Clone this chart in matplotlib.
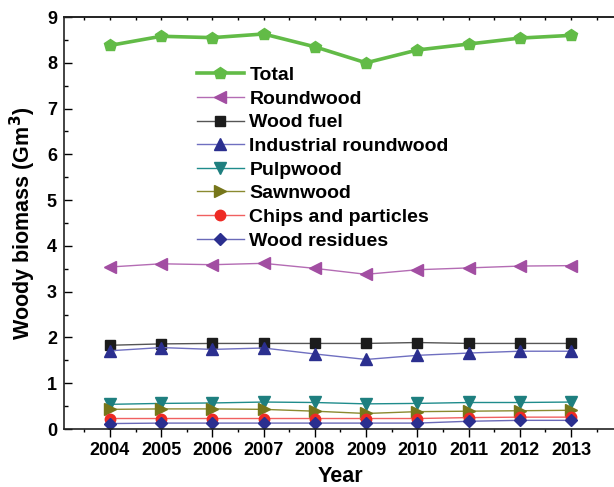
import matplotlib
matplotlib.use("Agg")
import matplotlib.pyplot as plt
from matplotlib.ticker import MultipleLocator

plt.rcParams["font.family"] = ["Liberation Sans", "DejaVu Sans"]
plt.rcParams["font.weight"] = "bold"

years = [2004, 2005, 2006, 2007, 2008, 2009, 2010, 2011, 2012, 2013]

total = [8.38, 8.58, 8.55, 8.63, 8.35, 8.00, 8.28, 8.41, 8.54, 8.60]
roundwood = [3.54, 3.61, 3.59, 3.62, 3.51, 3.38, 3.48, 3.52, 3.56, 3.57]
wood_fuel = [1.83, 1.86, 1.87, 1.87, 1.87, 1.87, 1.89, 1.87, 1.87, 1.87]
industrial = [1.71, 1.78, 1.74, 1.77, 1.64, 1.52, 1.61, 1.66, 1.70, 1.70]
pulpwood = [0.54, 0.56, 0.57, 0.59, 0.58, 0.55, 0.56, 0.58, 0.58, 0.59]
sawnwood = [0.43, 0.44, 0.44, 0.43, 0.39, 0.34, 0.38, 0.39, 0.40, 0.41]
chips = [0.23, 0.23, 0.23, 0.23, 0.23, 0.23, 0.23, 0.25, 0.26, 0.26]
residues = [0.12, 0.13, 0.13, 0.13, 0.13, 0.13, 0.13, 0.17, 0.19, 0.19]

# label, values, line colour, marker, marker colour, marker size, line width
series = [
	("Total", total, "#62bb47", "p", "#62bb47", 9, 2.6),
	("Roundwood", roundwood, "#b46cb4", "<", "#a24ea2", 9, 1.0),
	("Wood fuel", wood_fuel, "#555555", "s", "#1c1c1c", 7, 1.0),
	("Industrial roundwood", industrial, "#6f6fc0", "^", "#2b2f8f", 8, 1.0),
	("Pulpwood", pulpwood, "#1f8c8c", "v", "#1e7f7f", 8, 1.0),
	("Sawnwood", sawnwood, "#8a8a30", ">", "#76761a", 8, 1.0),
	("Chips and particles", chips, "#f06060", "o", "#ee2a24", 7.5, 1.0),
	("Wood residues", residues, "#6a6ab8", "D", "#2b2f8f", 6.5, 1.0),
]

fig = plt.figure(figsize=(6.14, 4.87), dpi=100)
ax = fig.add_axes([0.104, 0.119, 0.901, 0.846])

for label, vals, lc, mk, mc, ms, lw in series:
	ax.plot(years, vals, color=lc, lw=lw, marker=mk, markersize=ms,
		markerfacecolor=mc, markeredgecolor=mc, label=label)

ax.set_xlim(2003.1, 2013.9)
ax.set_ylim(0, 9)
ax.xaxis.set_major_locator(MultipleLocator(1))
ax.xaxis.set_minor_locator(MultipleLocator(0.5))
ax.yaxis.set_major_locator(MultipleLocator(1))
ax.yaxis.set_minor_locator(MultipleLocator(0.5))
ax.tick_params(axis="x", which="both", direction="out", labelsize=13,
	width=1.0, pad=4)
ax.tick_params(axis="x", which="major", length=5.5)
ax.tick_params(axis="x", which="minor", length=2.5)
ax.tick_params(axis="y", which="both", direction="in", labelsize=13,
	width=1.0, pad=5)
ax.tick_params(axis="y", which="major", length=6)
ax.tick_params(axis="y", which="minor", length=3)
ax.spines["right"].set_visible(False)
for s in ["left", "bottom", "top"]:
	ax.spines[s].set_linewidth(1.2)
	ax.spines[s].set_color("#222222")

# small inward ticks along the top edge
top = ax.secondary_xaxis("top")
top.xaxis.set_major_locator(MultipleLocator(1))
top.xaxis.set_minor_locator(MultipleLocator(0.5))
top.tick_params(which="both", direction="in", length=2.5, width=1.0,
	labeltop=False)
top.spines["top"].set_linewidth(1.2)
top.spines["top"].set_color("#222222")

ax.set_xlabel("Year", fontsize=15.5, fontweight="bold", labelpad=5)
ax.set_ylabel(r"Woody biomass (Gm$^\mathbf{3}$)", fontsize=15.5,
	fontweight="bold", labelpad=6)

leg = ax.legend(loc="upper left", bbox_to_anchor=(0.24, 0.88), frameon=False,
	fontsize=14, handlelength=2.45, handletextpad=0.26, labelspacing=0.31,
	borderaxespad=0, borderpad=0)

fig.savefig("out.png", dpi=100)
